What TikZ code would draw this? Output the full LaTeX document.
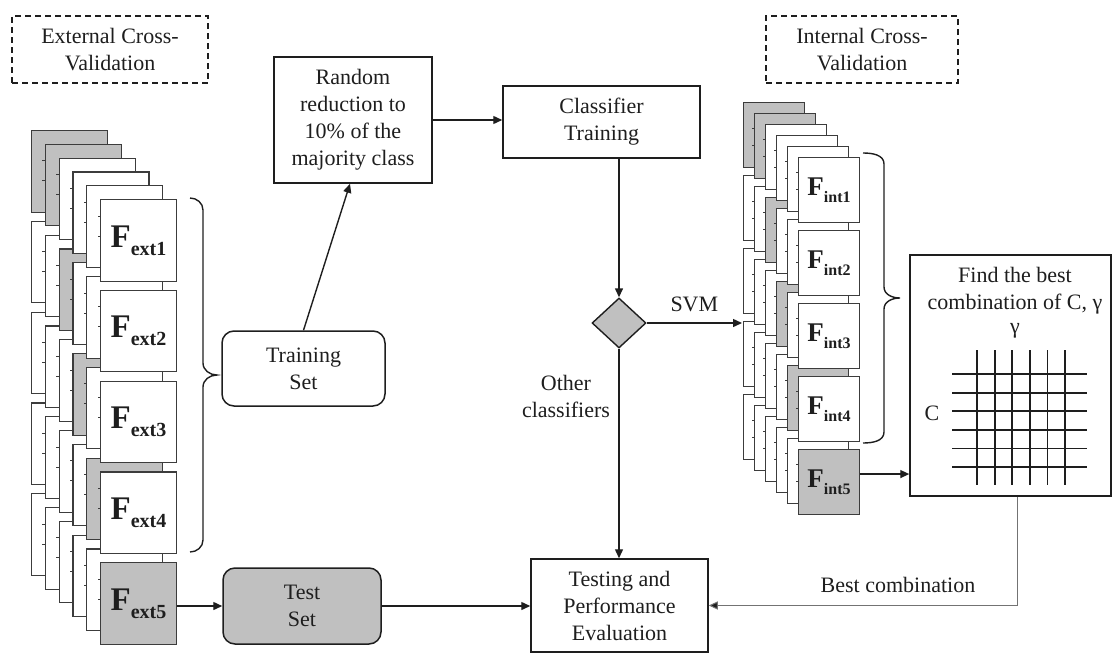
\documentclass[tikz,border=0pt]{standalone}
\usepackage{fontspec}
\setmainfont{Liberation Serif}
\usetikzlibrary{arrows.meta,shapes.geometric}
\definecolor{foldgray}{RGB}{192,192,192}
\definecolor{ink}{RGB}{30,30,30}
\definecolor{foldline}{RGB}{60,60,60}
\definecolor{thinline}{RGB}{115,115,115}
% fold labels: F with a bold subscript
\newcommand\extlab[1]{{\bfseries\fontsize{33}{33}\selectfont F\fontsize{20}{20}\selectfont\raisebox{-8pt}{ext#1}}}
\newcommand\intlab[1]{{\bfseries\fontsize{27}{27}\selectfont F\fontsize{16}{16}\selectfont\raisebox{-6.5pt}{int#1}}}
\begin{document}
\begin{tikzpicture}[x=1pt,y=-1pt,
  every node/.style={font=\fontsize{22}{27}\selectfont, text=ink},
  procbox/.style={draw=ink, line width=1.5pt, fill=white, align=center, inner sep=0pt},
  setbox/.style={procbox, rounded corners=12pt},
  dashbox/.style={draw=ink, line width=1.2pt, dash pattern=on 6pt off 4pt, align=center, inner sep=0pt},
  foldbox/.style={draw=foldline, line width=1.1pt, inner sep=0pt, anchor=north west},
  flow/.style={draw=ink, line width=1.4pt, -{Triangle[length=9pt,width=8pt]}},
  backflow/.style={draw=thinline, line width=1pt, -{Triangle[length=9pt,width=8pt,fill=ink]}},
  foldtick/.style={draw=foldline, line width=0.8pt},
  bracestyle/.style={draw=ink, line width=1.4pt},
  gridline/.style={draw=ink, line width=1.8pt},
  plain/.style={align=center, inner sep=0pt},
]
\useasboundingbox (0,0) rectangle (1113,653);

% ---------- external cross-validation folds (back layers) ----------
\foreach \l in {0,...,4}{
  \pgfmathsetmacro\bx{100-(5-\l)*13.8}
  \pgfmathsetmacro\by{199-(5-\l)*13.8}
  \pgfmathtruncatemacro\g{max(\l,1)}
  \foreach \f in {1,...,5}{
    \pgfmathsetmacro\ty{\by+(\f-1)*90.8}
    \ifnum\f=\g\relax \def\fc{foldgray}\else \def\fc{white}\fi
    \node[foldbox, fill=\fc, minimum width=76pt, minimum height=81.5pt] (ext-\l-\f) at (\bx,\ty) {};
    \ifnum\l>0\relax \draw[foldtick] (\bx,\ty+17) -- ++(-2.5,0) (\bx,\ty+37) -- ++(-2.5,0);\fi
  }
}
% front layer
\foreach \f in {1,...,5}{
  \pgfmathsetmacro\ty{199+(\f-1)*90.8}
  \ifnum\f=5\relax \def\fc{foldgray}\else \def\fc{white}\fi
  \node[foldbox, fill=\fc, minimum width=76pt, minimum height=81.5pt] (ext\f) at (100,\ty) {\extlab{\f}};
  \draw[foldtick] (100,\ty+17) -- ++(-2.5,0) (100,\ty+37) -- ++(-2.5,0);
}

% ---------- internal cross-validation folds ----------
\foreach \l in {0,...,4}{
  \pgfmathsetmacro\bx{798-(5-\l)*11}
  \pgfmathsetmacro\by{157-(5-\l)*11}
  \pgfmathtruncatemacro\g{max(\l,1)}
  \foreach \f in {1,...,5}{
    \pgfmathsetmacro\ty{\by+(\f-1)*73}
    \ifnum\f=\g\relax \def\fc{foldgray}\else \def\fc{white}\fi
    \node[foldbox, fill=\fc, minimum width=61pt, minimum height=65pt] (int-\l-\f) at (\bx,\ty) {};
    \ifnum\l>0\relax \draw[foldtick] (\bx,\ty+15) -- ++(-2,0) (\bx,\ty+32) -- ++(-2,0);\fi
  }
}
\foreach \f in {1,...,5}{
  \pgfmathsetmacro\ty{157+(\f-1)*73}
  \ifnum\f=5\relax \def\fc{foldgray}\else \def\fc{white}\fi
  \node[foldbox, fill=\fc, minimum width=61pt, minimum height=65pt] (int\f) at (798,\ty) {\intlab{\f}};
  \draw[foldtick] (798,\ty+15) -- ++(-2,0) (798,\ty+32) -- ++(-2,0);
}

% ---------- braces ----------
\draw[bracestyle] (190,198) to[out=0,in=90] (203,210) -- (203,363) to[out=-90,in=180] (217,375)
  to[out=180,in=90] (203,387) -- (203,540) to[out=-90,in=0] (190,552);
\draw[bracestyle] (863,153) to[out=0,in=90] (884,164) -- (884,287) to[out=-90,in=180] (900,298)
  to[out=180,in=90] (884,309) -- (884,432) to[out=-90,in=0] (863,443);

% ---------- labels in dashed frames ----------
\node[dashbox, minimum width=196pt, minimum height=67pt] (extcv) at (110,49.5) {External Cross-\\Validation};
\node[dashbox, minimum width=192pt, minimum height=67pt] (intcv) at (862,49.5) {Internal Cross-\\Validation};

% ---------- process boxes ----------
\node[procbox, minimum width=158pt, minimum height=126pt] (random) at (353,120) {Random\\reduction to\\10\% of the\\majority class};
\node[procbox, minimum width=197pt, minimum height=72pt] (classifier) at (601.5,122) {Classifier\\Training};
\node[draw=ink, line width=1.4pt, fill=foldgray, diamond, minimum width=54pt, minimum height=50pt, inner sep=0pt] (choice) at (619,323) {};
\node[setbox, minimum width=163pt, minimum height=75pt] (training) at (303.5,368.5) {Training\\Set};
\node[setbox, fill=foldgray, minimum width=158pt, minimum height=76pt] (test) at (302,606) {Test\\Set};
\node[procbox, minimum width=177pt, minimum height=93pt] (testing) at (619.5,605.5) {Testing and\\Performance\\Evaluation};
\node[procbox, minimum width=201pt, minimum height=241pt] (find) at (1010.5,375.5) {};
\node[plain] (findtxt) at (1015,291) {Find the best\\combination of C, γ};

% ---------- parameter grid ----------
\foreach \k in {0,...,5}{
  \draw[gridline] (977+17.6*\k,350) -- (977+17.6*\k,485);
  \draw[gridline] (952,374+18.6*\k) -- (1087,374+18.6*\k);
}
\node[plain] (gamma) at (1015,331) {γ};
\node[plain] (cpar) at (932,413) {C};

% ---------- connectors ----------
\coordinate (svmend) at (742,323);
\draw[flow] (training.north) -- ([xshift=-3pt]random.south);
\draw[flow] (random.east) -- (random.east -| classifier.west);
\draw[flow] (classifier.south -| choice.north) -- (choice.north);
\draw[flow] (choice.east) -- node[plain, above=10pt] (svmlab) {SVM} (svmend);
\draw[flow] (choice.south) -- (choice.south |- testing.north);
\node[plain] (otherlab) at (566,396) {Other\\classifiers};
\draw[flow] (ext5.east |- test.west) -- (test.west);
\draw[flow] (test.east) -- (test.east -| testing.west);
\draw[flow] ([yshift=8pt]int5.east) -- ([yshift=8pt]int5.east -| find.west);
\draw[backflow] ([xshift=6.5pt]find.south) |- (testing.east);
\node[plain] (bestlab) at (898,585) {Best combination};
\end{tikzpicture}
\end{document}
